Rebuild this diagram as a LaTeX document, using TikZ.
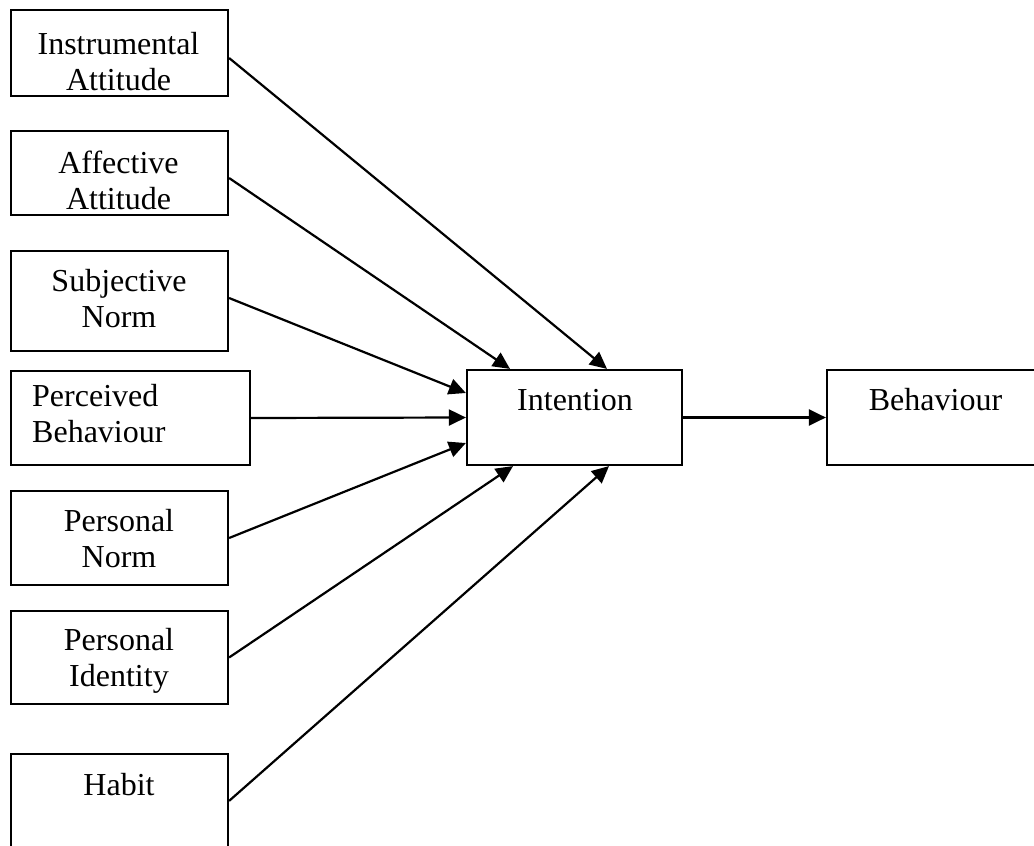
\documentclass[tikz,border=0pt]{standalone}
\usepackage{fontspec}
\setmainfont{Liberation Serif}
\usetikzlibrary{arrows.meta}
\begin{document}
\begin{tikzpicture}[x=1pt,y=-1pt,
  box/.style={draw=black, line width=2.2pt, rectangle, inner sep=0pt},
  txt/.style={inner sep=0pt, align=center, font=\fontsize{32}{36}\selectfont},
  conn/.style={line width=2.2pt, -{Triangle[length=17pt,width=16pt]}}]
\clip (0,0) rectangle (1034,846);
\fill[white] (0,0) rectangle (1034,846);
% boxes
\node[box, minimum width=217pt, minimum height=86pt]  (ia)  at (119.5,53) {};
\node[box, minimum width=217pt, minimum height=84pt]  (aa)  at (119.5,173) {};
\node[box, minimum width=217pt, minimum height=100pt] (sn)  at (119.5,301) {};
\node[box, minimum width=239pt, minimum height=94pt]  (pb)  at (130.5,418) {};
\node[box, minimum width=217pt, minimum height=94pt]  (pn)  at (119.5,538) {};
\node[box, minimum width=217pt, minimum height=93pt]  (pid) at (119.5,657.5) {};
\node[box, minimum width=217pt, minimum height=146pt] (hb)  at (119.5,827) {};
\node[box, minimum width=215pt, minimum height=95pt]  (int) at (574.5,417.5) {};
\node[box, minimum width=218pt, minimum height=95pt]  (beh) at (936,417.5) {};
% texts
\node[txt] (iat)  at (118.5,61.5) {Instrumental\\Attitude};
\node[txt] (aat)  at (118.5,180) {Affective\\Attitude};
\node[txt] (snt)  at (119,298.5) {Subjective\\Norm};
\node[txt, align=left, anchor=west] (pbt) at (32,414) {Perceived\\Behaviour};
\node[txt] (pnt)  at (119,539) {Personal\\Norm};
\node[txt] (pidt) at (119,661) {Personal\\Identity};
\node[txt] (hbt)  at (119,785) {Habit};
\node[txt] (intt) at (575,400) {Intention};
\node[txt] (beht) at (935.5,400) {Behaviour};
% connectors
\draw[conn] ([yshift=-5pt]ia.east) -- ([xshift=32.5pt]int.north);
\draw[conn] ([yshift=-5pt]aa.east) -- ([xshift=-64.5pt]int.north);
\draw[conn] ([yshift=3pt]sn.east) -- ([yshift=24.5pt]int.west);
\draw[conn] (pb.east) -- (int.west);
\draw[conn] (pn.east) -- ([yshift=-25.5pt]int.west);
\draw[conn] (pid.east) -- ([xshift=-61.5pt]int.south);
\draw[conn] ([yshift=-48pt]hb.north east) -- ([xshift=34.5pt]int.south);
\draw[conn] (int.east) -- (beh.west);
\end{tikzpicture}
\end{document}
